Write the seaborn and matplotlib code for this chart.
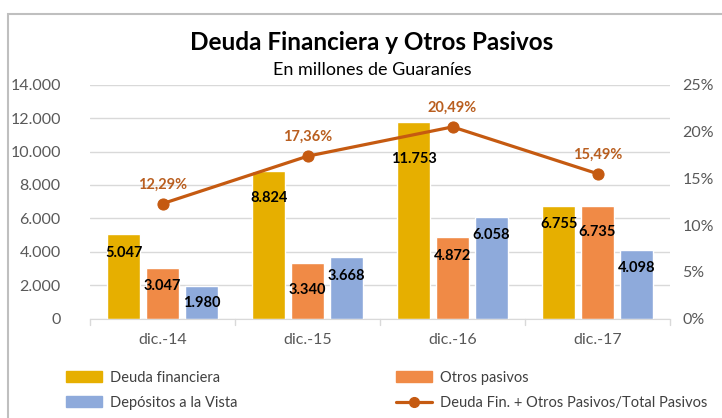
import numpy as np
import pandas as pd
import seaborn as sns
import matplotlib.pyplot as plt
from matplotlib.patches import Rectangle, Patch
from matplotlib.lines import Line2D

# datos (millones de Guaraníes)
periodos = ['dic.-14', 'dic.-15', 'dic.-16', 'dic.-17']
deuda_fin = [5047, 8824, 11753, 6755]
otros_pas = [3047, 3340, 4872, 6735]
depositos = [1980, 3668, 6058, 4098]
ratio_pct = [12.29, 17.36, 20.49, 15.49]
series = ['Deuda financiera', 'Otros pasivos', 'Depósitos a la Vista']
serie_linea = 'Deuda Fin. + Otros Pasivos/Total Pasivos'

colores = ['#E6AF00', '#F08A46', '#8EAADB']
c_linea = '#C55A11'
gris = '#595959'

df = pd.DataFrame({
    'periodo': periodos * 3,
    'serie': np.repeat(series, 4),
    'valor': deuda_fin + otros_pas + depositos,
})

sns.set_style('white')
plt.rcParams['font.family'] = ['Lato', 'DejaVu Sans']

fig = plt.figure(figsize=(7.22, 4.18), dpi=100)
ax = fig.add_axes([0.1247, 0.2376, 0.8033, 0.5598])

sns.barplot(data=df, x='periodo', y='valor', hue='serie', hue_order=series,
            order=periodos, palette=colores, width=0.806, gap=0.15,
            saturation=1, ax=ax, legend=False)

ax.set_ylim(0, 14000)
ax.set_yticks(range(0, 14001, 2000))
ax.set_yticklabels([f'{v:,}'.replace(',', '.') for v in range(0, 14001, 2000)])
ax.set_xlim(-0.5, 3.5)
ax.set_xlabel('')
ax.set_ylabel('')
ax.grid(axis='y', color='#D9D9D9', lw=1)
ax.set_axisbelow(True)
for s in ['top', 'left', 'right']:
    ax.spines[s].set_visible(False)
ax.spines['bottom'].set_color('#D9D9D9')
ax.tick_params(axis='y', length=0, labelsize=11.5, labelcolor=gris, pad=21)
ax.tick_params(axis='x', length=0, labelsize=11.5, labelcolor=gris, pad=10)
# marcas entre categorias
for xb in [-0.5, 0.5, 1.5, 2.5, 3.5]:
    ax.plot([xb, xb], [0, -380], color='#D9D9D9', lw=1, clip_on=False)

# etiquetas de barras (desplazamiento en pixeles bajo el tope)
desplaz = [[19, 27, 37, 18], [18, 27, 19, 26], [17, 19, 18, 18]]
for cont, offs in zip(ax.containers, desplaz):
    for bar, off in zip(cont, offs):
        h = bar.get_height()
        ax.annotate(f'{h:,.0f}'.replace(',', '.'),
                    (bar.get_x() + bar.get_width() / 2, h),
                    xytext=(0, -off), textcoords='offset pixels',
                    ha='center', va='center', fontsize=10.5,
                    fontweight='bold', color='black')

ax2 = ax.twinx()
sns.lineplot(x=np.arange(len(periodos)), y=ratio_pct, ax=ax2, color=c_linea,
             lw=2.3, marker='o', markersize=8, markeredgecolor=c_linea)
ax2.set_ylim(0, 25)
ax2.set_yticks(range(0, 26, 5))
ax2.set_yticklabels([f'{v}%' for v in range(0, 26, 5)])
ax2.tick_params(axis='y', length=0, labelsize=11.5, labelcolor=gris, pad=9)
for s in ax2.spines.values():
    s.set_visible(False)
for i, p in enumerate(ratio_pct):
    ax2.annotate(f'{p:.2f}%'.replace('.', ','), (i, p), xytext=(0, 19),
                 textcoords='offset pixels', ha='center', va='center',
                 fontsize=10.5, fontweight='bold', color='#B95E1F')

fig.text(0.515, 0.898, 'Deuda Financiera y Otros Pasivos', ha='center',
         va='center', fontsize=17.5, fontweight='bold', color='black')
fig.text(0.515, 0.832, 'En millones de Guaraníes', ha='center', va='center',
         fontsize=13, color='black')

h_deuda = Patch(color=colores[0])
h_otros = Patch(color=colores[1])
h_dep = Patch(color=colores[2])
h_lin = Line2D([], [], color=c_linea, lw=2.3, marker='o', markersize=7)
kw = dict(frameon=False, fontsize=10.5, labelcolor='#404040', handlelength=2.5,
          handleheight=0.75, handletextpad=0.5, labelspacing=0.75,
          loc='upper left', borderaxespad=0)
fig.legend([h_deuda, h_dep], [series[0], series[2]],
           bbox_to_anchor=(60 / 722, 1 - 365 / 418), **kw)
fig.legend([h_otros, h_lin], [series[1], serie_linea],
           bbox_to_anchor=(390 / 722, 1 - 365 / 418), **kw)

# marco del grafico
fig.patches.append(Rectangle((7.5 / 722, -0.1), 1.2, 1.1 - 14 / 418,
                             transform=fig.transFigure, fill=False,
                             edgecolor='#BFBFBF', lw=1.5))

fig.savefig('out.png', dpi=100)
